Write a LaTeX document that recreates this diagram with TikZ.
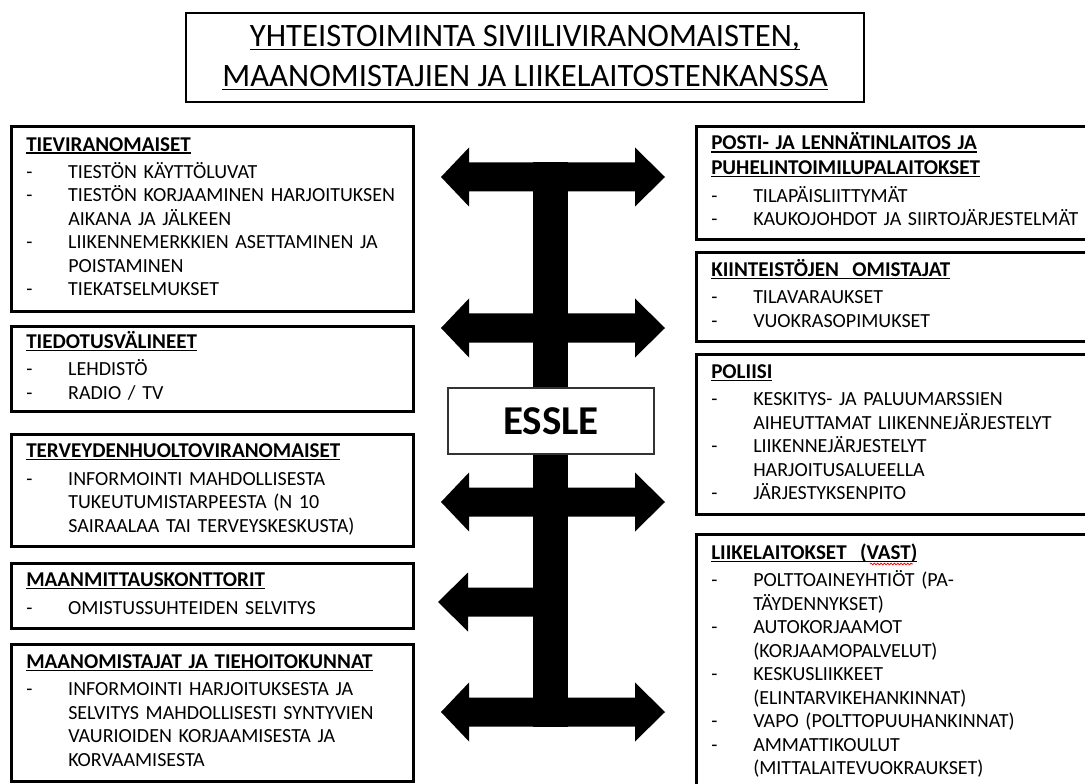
\documentclass[tikz,border=0pt]{standalone}
\usepackage{fontspec}
\setmainfont{Carlito}
\usetikzlibrary{decorations.pathmorphing}

% alleviivaus: [syvyys]{teksti}
\newcommand{\uln}[2][2pt]{\setbox0\hbox{#2}\rlap{\rule[-#1]{\wd0}{1pt}}\box0}
\newcommand{\boxhead}[1]{\multicolumn{2}{@{}l@{}}{\fontsize{15.8}{17.6}\selectfont\bfseries\uln{#1}}}

\tikzset{
  infobox/.style={draw, line width=1.9pt, anchor=north west, align=left,
    inner xsep=11.25pt, inner ysep=0pt, font=\fontsize{15}{17.6}\selectfont},
  leftbox/.style={infobox, text width=279pt},
  rightbox/.style={infobox, text width=292.5pt},
  titlebox/.style={draw, line width=2.2pt, minimum width=508.5pt, minimum height=66.75pt,
    align=center, font=\fontsize{24.5}{30}\selectfont},
  blockarrow/.style={fill=black},
}

\begin{document}
\begin{tikzpicture}[x=0.75pt, y=-0.75pt]
\clip (0,0) rectangle (1085,784);
\fill[white] (0,0) rectangle (1085,784);

% otsikko
\node[titlebox] (otsikko) at (525,57.5)
  {\uln[3pt]{YHTEISTOIMINTA SIVIILIVIRANOMAISTEN,}\\
   \uln[3pt]{MAANOMISTAJIEN JA LIIKELAITOSTENKANSSA}};

% nuolet ja runko
\fill[blockarrow] (533,162) rectangle (568,727);
\foreach \cy in {177,328,502,712}
  \fill[blockarrow] (441,\cy) -- (469,\cy-29.5) -- (469,\cy-14.5) -- (635,\cy-14.5)
    -- (635,\cy-29.5) -- (665,\cy) -- (635,\cy+29.5) -- (635,\cy+14.5)
    -- (469,\cy+14.5) -- (469,\cy+29.5) -- cycle;
\fill[blockarrow] (438,602) -- (468,572.5) -- (468,587.5) -- (550,587.5)
  -- (550,616.5) -- (468,616.5) -- (468,631.5) -- cycle;

\node[draw=black!80, line width=0.9pt, fill=white, minimum width=154.5pt, minimum height=49.5pt,
  font=\fontsize{30.75}{36}\selectfont\bfseries] (essle) at (551,421) {ESSLE};

% vasen sarake
\node[leftbox, minimum height=138.75pt] (tiev) at (10,125) {%
\begin{tabular}{@{}p{31.5pt}@{}l@{}}
\boxhead{TIEVIRANOMAISET}\\[3pt]
- & TIESTÖN KÄYTTÖLUVAT\\
- & TIESTÖN KORJAAMINEN HARJOITUKSEN\\
  & AIKANA JA JÄLKEEN\\
- & LIIKENNEMERKKIEN ASETTAMINEN JA\\
  & POISTAMINEN\\
- & TIEKATSELMUKSET
\end{tabular}};

\node[leftbox, minimum height=63.75pt] (tiedo) at (10,325) {%
\begin{tabular}{@{}p{31.5pt}@{}l@{}}
\boxhead{TIEDOTUSVÄLINEET}\\[3pt]
- & LEHDISTÖ\\
- & RADIO / TV
\end{tabular}};

\node[leftbox, minimum height=84pt] (terv) at (10,433) {%
\begin{tabular}{@{}p{31.5pt}@{}l@{}}
\boxhead{TERVEYDENHUOLTOVIRANOMAISET}\\[3pt]
- & INFORMOINTI MAHDOLLISESTA\\
  & TUKEUTUMISTARPEESTA (N 10\\
  & SAIRAALAA TAI TERVEYSKESKUSTA)
\end{tabular}};

\node[leftbox, minimum height=48.75pt] (maanm) at (10,562) {%
\begin{tabular}{@{}p{31.5pt}@{}l@{}}
\boxhead{MAANMITTAUSKONTTORIT}\\[3pt]
- & OMISTUSSUHTEIDEN SELVITYS
\end{tabular}};

\node[leftbox, minimum height=102.75pt] (maano) at (10,643) {%
\begin{tabular}{@{}p{31.5pt}@{}l@{}}
\boxhead{MAANOMISTAJAT JA TIEHOITOKUNNAT}\\[3pt]
- & INFORMOINTI HARJOITUKSESTA JA\\
  & SELVITYS MAHDOLLISESTI SYNTYVIEN\\
  & VAURIOIDEN KORJAAMISESTA JA\\
  & KORVAAMISESTA
\end{tabular}};

% oikea sarake
\node[rightbox, minimum height=84.75pt] (posti) at (695,125) {%
\begin{tabular}{@{}p{31.5pt}@{}l@{}}
\boxhead{POSTI- JA LENNÄTINLAITOS JA}\\[1pt]
\boxhead{PUHELINTOIMILUPALAITOKSET}\\[3pt]
- & TILAPÄISLIITTYMÄT\\
- & KAUKOJOHDOT JA SIIRTOJÄRJESTELMÄT
\end{tabular}};

\node[rightbox, minimum height=66.75pt] (kiint) at (695,251) {%
\begin{tabular}{@{}p{31.5pt}@{}l@{}}
\boxhead{KIINTEISTÖJEN\ \ OMISTAJAT}\\[3pt]
- & TILAVARAUKSET\\
- & VUOKRASOPIMUKSET
\end{tabular}};

\node[rightbox, minimum height=120pt] (poli) at (695,353) {%
\begin{tabular}{@{}p{31.5pt}@{}l@{}}
\boxhead{POLIISI}\\[3pt]
- & KESKITYS- JA PALUUMARSSIEN\\
  & AIHEUTTAMAT LIIKENNEJÄRJESTELYT\\
- & LIIKENNEJÄRJESTELYT\\
  & HARJOITUSALUEELLA\\
- & JÄRJESTYKSENPITO
\end{tabular}};

\node[rightbox, minimum height=192pt] (liike) at (695,533) {%
\begin{tabular}{@{}p{31.5pt}@{}l@{}}
\boxhead{LIIKELAITOKSET\ \ (VAST)}\\[3pt]
- & POLTTOAINEYHTIÖT (PA-\\
  & TÄYDENNYKSET)\\
- & AUTOKORJAAMOT\\
  & (KORJAAMOPALVELUT)\\
- & KESKUSLIIKKEET\\
  & (ELINTARVIKEHANKINNAT)\\
- & VAPO (POLTTOPUUHANKINNAT)\\
- & AMMATTIKOULUT\\
  & (MITTALAITEVUOKRAUKSET)
\end{tabular}};
\draw[red, line width=0.6pt, decorate, decoration={snake, amplitude=0.6pt, segment length=2.5pt}]
  ([shift={(175,31)}]liike.north west) -- ++(43,0);
\end{tikzpicture}
\end{document}
